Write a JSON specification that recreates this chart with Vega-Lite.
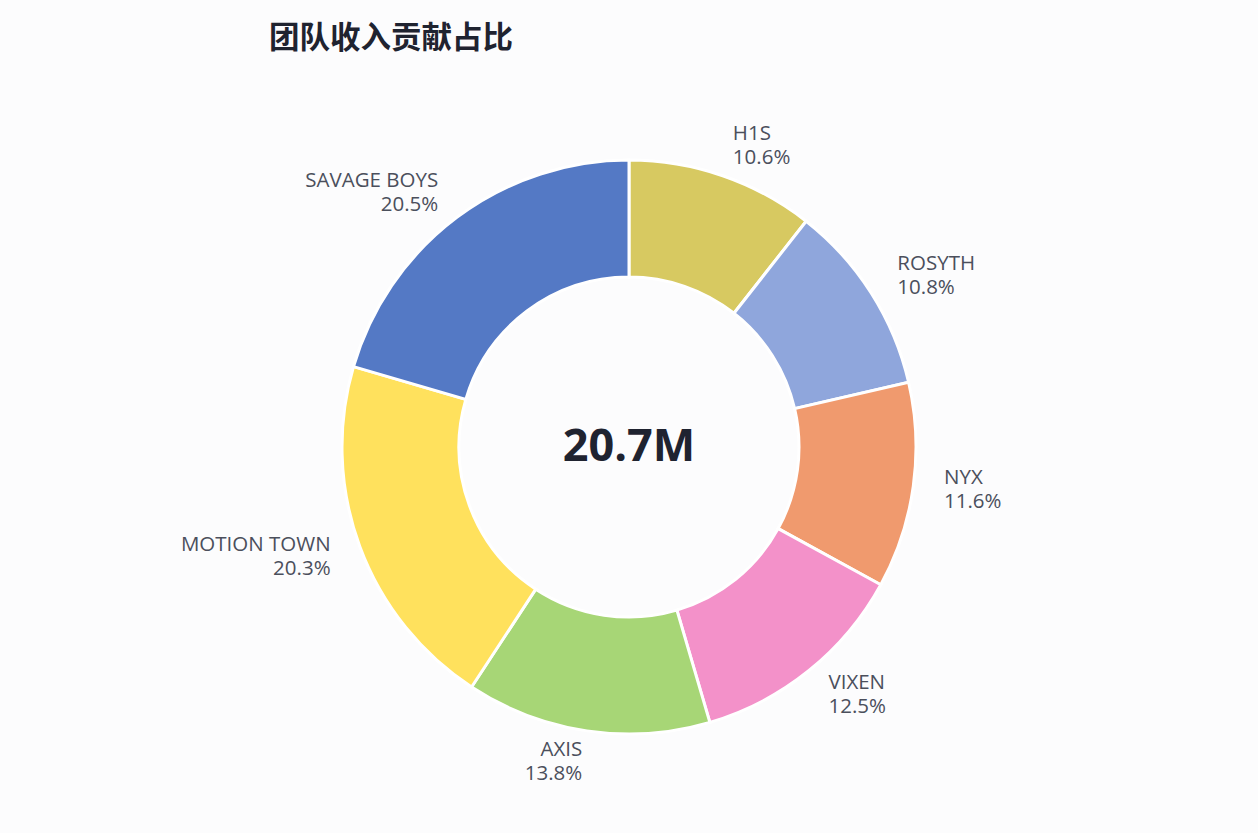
{
  "$schema": "https://vega.github.io/schema/vega-lite/v6.json",
  "autosize": {"type": "fit", "contains": "padding"},
  "width": 1258,
  "height": 833,
  "padding": {"top": 23, "left": 0, "right": 0, "bottom": 0},
  "background": "#fcfcfd",
  "config": {"view": {"stroke": null}},
  "title": {
    "text": "团队收入贡献占比",
    "anchor": "start",
    "dx": 269,
    "offset": 7,
    "font": "Noto Sans CJK SC",
    "fontSize": 30.5,
    "fontWeight": "bold",
    "color": "#1f2330"
  },
  "data": {
    "values": [
      {"rank": 1, "team": "H1S", "share": "10.6%", "value": 10.6},
      {"rank": 2, "team": "ROSYTH", "share": "10.8%", "value": 10.8},
      {"rank": 3, "team": "NYX", "share": "11.6%", "value": 11.6},
      {"rank": 4, "team": "VIXEN", "share": "12.5%", "value": 12.5},
      {"rank": 5, "team": "AXIS", "share": "13.8%", "value": 13.8},
      {"rank": 6, "team": "MOTION TOWN", "share": "20.3%", "value": 20.3},
      {"rank": 7, "team": "SAVAGE BOYS", "share": "20.5%", "value": 20.5}
    ]
  },
  "encoding": {
    "theta": {"field": "value", "type": "quantitative", "stack": true},
    "order": {"field": "rank", "type": "quantitative"},
    "color": {
      "field": "team",
      "type": "nominal",
      "legend": null,
      "scale": {
        "domain": ["H1S", "ROSYTH", "NYX", "VIXEN", "AXIS", "MOTION TOWN", "SAVAGE BOYS"],
        "range": ["#d7c961", "#8fa6dc", "#f09a6e", "#f391c9", "#a7d676", "#ffe15d", "#5479c5"]
      }
    }
  },
  "layer": [
    {
      "mark": {"type": "arc", "innerRadius": 170, "outerRadius": 287, "stroke": "#ffffff", "strokeWidth": 3}
    },
    {
      "mark": {"type": "text", "radius": 318, "align": "left", "baseline": "middle", "dy": -12, "font": "Open Sans", "fontSize": 20.5},
      "encoding": {
        "color": {"value": "#4b4f5c"},
        "text": {"condition": {"test": "indexof(['H1S','ROSYTH','NYX','VIXEN'], datum.team) >= 0", "field": "team", "type": "nominal"}, "value": ""}
      }
    },
    {
      "mark": {"type": "text", "radius": 318, "align": "left", "baseline": "middle", "dy": 12, "font": "Open Sans", "fontSize": 20.5},
      "encoding": {
        "color": {"value": "#4b4f5c"},
        "text": {"condition": {"test": "indexof(['H1S','ROSYTH','NYX','VIXEN'], datum.team) >= 0", "field": "share", "type": "nominal"}, "value": ""}
      }
    },
    {
      "mark": {"type": "text", "radius": 318, "align": "right", "baseline": "middle", "dy": -12, "font": "Open Sans", "fontSize": 20.5},
      "encoding": {
        "color": {"value": "#4b4f5c"},
        "text": {"condition": {"test": "indexof(['AXIS','MOTION TOWN','SAVAGE BOYS'], datum.team) >= 0", "field": "team", "type": "nominal"}, "value": ""}
      }
    },
    {
      "mark": {"type": "text", "radius": 318, "align": "right", "baseline": "middle", "dy": 12, "font": "Open Sans", "fontSize": 20.5},
      "encoding": {
        "color": {"value": "#4b4f5c"},
        "text": {"condition": {"test": "indexof(['AXIS','MOTION TOWN','SAVAGE BOYS'], datum.team) >= 0", "field": "share", "type": "nominal"}, "value": ""}
      }
    },
    {
      "data": {"values": [{"total": "20.7M"}]},
      "mark": {"type": "text", "align": "center", "baseline": "middle", "font": "Open Sans", "fontSize": 45, "fontWeight": "bold", "color": "#1f2330"},
      "encoding": {
        "text": {"field": "total", "type": "nominal"},
        "theta": null,
        "order": null,
        "color": null
      }
    }
  ]
}
